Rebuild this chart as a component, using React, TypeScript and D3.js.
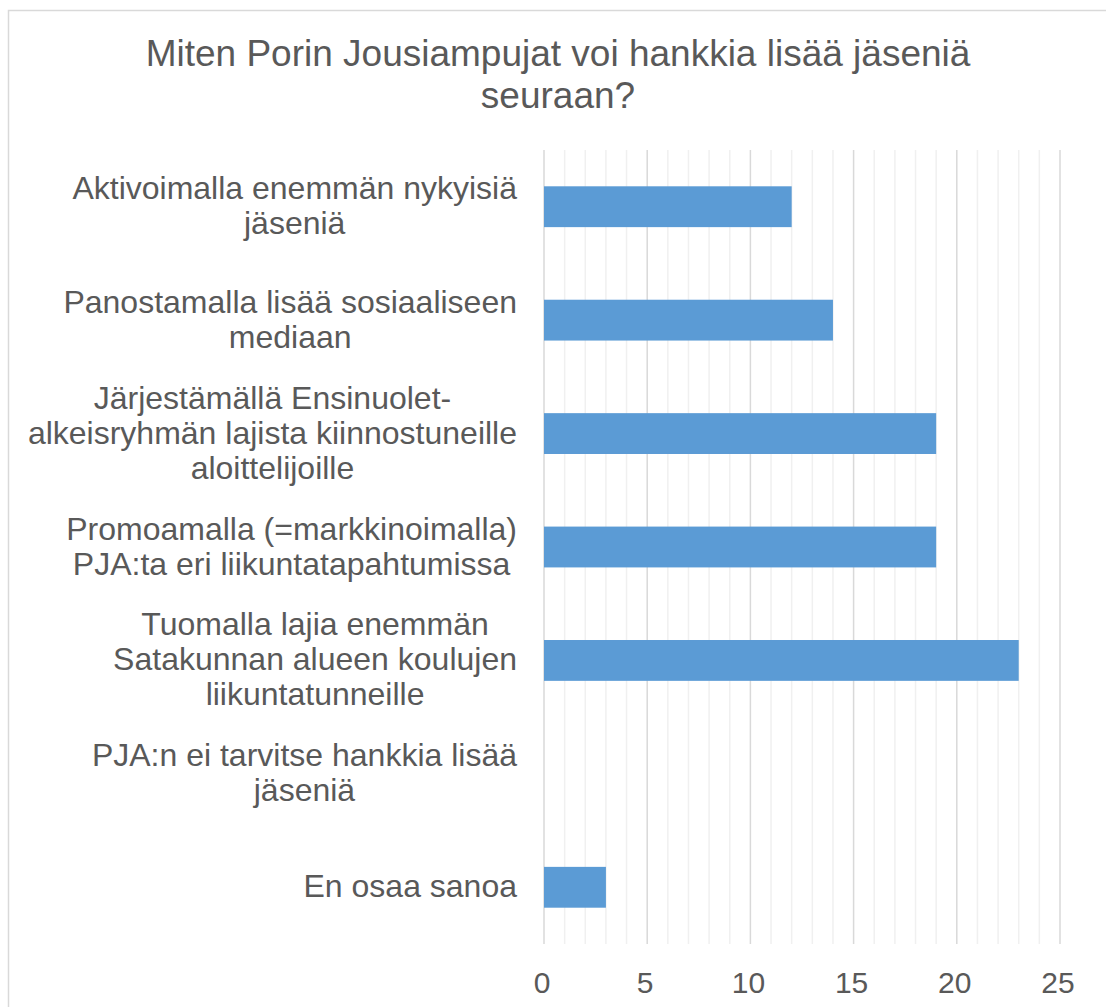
import React, { useRef, useEffect } from "react";
import * as d3 from "d3";

const titleLines = ["Miten Porin Jousiampujat voi hankkia lisää jäseniä", "seuraan?"];

const categories = [
  "Aktivoimalla enemmän nykyisiä jäseniä",
  "Panostamalla lisää sosiaaliseen mediaan",
  "Järjestämällä Ensinuolet-alkeisryhmän lajista kiinnostuneille aloittelijoille",
  "Promoamalla (=markkinoimalla) PJA:ta eri liikuntatapahtumissa",
  "Tuomalla lajia enemmän Satakunnan alueen koulujen liikuntatunneille",
  "PJA:n ei tarvitse hankkia lisää jäseniä",
  "En osaa sanoa",
];

// how the label wraps in the picture
const labelLines = [
  ["Aktivoimalla enemmän nykyisiä", "jäseniä"],
  ["Panostamalla lisää sosiaaliseen", "mediaan"],
  ["Järjestämällä Ensinuolet-", "alkeisryhmän lajista kiinnostuneille", "aloittelijoille"],
  ["Promoamalla (=markkinoimalla)", "PJA:ta eri liikuntatapahtumissa"],
  ["Tuomalla lajia enemmän", "Satakunnan alueen koulujen", "liikuntatunneille"],
  ["PJA:n ei tarvitse hankkia lisää", "jäseniä"],
  ["En osaa sanoa"],
];

const values = [12, 14, 19, 19, 23, 0, 3];

const xTicks = [0, 5, 10, 15, 20, 25];

const W = 1106;
const H = 1007;
const FONT = "'Liberation Sans', Arial, sans-serif";
const TEXT = "#595959";

function App() {
  const svgRef = useRef<SVGSVGElement>(null);

  useEffect(() => {
    const svg = d3.select(svgRef.current);
    svg.selectAll("*").remove();

    // chart border (runs off the right and bottom)
    svg.append("rect")
      .attr("x", 8.5).attr("y", 10.5)
      .attr("width", 1200).attr("height", 1100)
      .attr("fill", "white")
      .attr("stroke", "#d9d9d9")
      .attr("stroke-width", 1.5);

    const x = d3.scaleLinear().domain([0, 25]).range([544, 1060]);
    const y = d3.scaleBand().domain(categories).range([150, 944]).padding(0);

    const g = svg.append("g");

    // minor grid, every unit
    g.selectAll("line.minor")
      .data(d3.range(0, 26).filter(v => v % 5 !== 0))
      .join("line")
      .attr("class", "minor")
      .attr("x1", d => x(d)).attr("x2", d => x(d))
      .attr("y1", 150).attr("y2", 944)
      .attr("stroke", "#f0f0f0")
      .attr("stroke-width", 1.5);

    // major grid
    g.selectAll("line.major")
      .data(xTicks)
      .join("line")
      .attr("class", "major")
      .attr("x1", d => x(d)).attr("x2", d => x(d))
      .attr("y1", 150).attr("y2", 944)
      .attr("stroke", "#d9d9d9")
      .attr("stroke-width", 1.5);

    const barH = y.bandwidth() * 0.36;
    g.selectAll("rect.bar")
      .data(values)
      .join("rect")
      .attr("class", "bar")
      .attr("x", x(0))
      .attr("y", (d, i) => (y(categories[i]) as number) + (y.bandwidth() - barH) / 2)
      .attr("width", d => x(d) - x(0))
      .attr("height", barH)
      .attr("fill", "#5b9bd5");

    // x tick labels
    svg.selectAll("text.tick")
      .data(xTicks)
      .join("text")
      .attr("class", "tick")
      .attr("x", d => x(d) - 2)
      .attr("y", 993)
      .attr("text-anchor", "middle")
      .attr("font-family", FONT)
      .attr("font-size", 30)
      .attr("fill", TEXT)
      .text(d => d);

    // category labels: lines centered inside a right-aligned block
    const lineH = 35;
    const right = 517;
    labelLines.forEach((lines, i) => {
      const cy = (y(categories[i]) as number) + y.bandwidth() / 2;
      const lg = svg.append("g");
      const texts = lg.selectAll("text")
        .data(lines)
        .join("text")
        .attr("text-anchor", "middle")
        .attr("x", 0)
        .attr("y", (d, j) => cy + (j - (lines.length - 1) / 2) * lineH + 10)
        .attr("font-family", FONT)
        .attr("font-size", 32)
        .attr("fill", TEXT)
        .text(d => d);
      let maxW = 0;
      texts.each(function () {
        maxW = Math.max(maxW, (this as SVGTextElement).getComputedTextLength());
      });
      lg.attr("transform", `translate(${right - maxW / 2},0)`);
    });

    // title
    svg.selectAll("text.title")
      .data(titleLines)
      .join("text")
      .attr("class", "title")
      .attr("x", 558)
      .attr("y", (d, i) => 66 + i * 42)
      .attr("text-anchor", "middle")
      .attr("font-family", FONT)
      .attr("font-size", 37)
      .attr("fill", TEXT)
      .text(d => d);
  }, []);

  return (
    <svg
      ref={svgRef}
      width={W}
      height={H}
      style={{ position: "absolute", left: 0, top: 0, background: "white" }}
    />
  );
}

export default App;
